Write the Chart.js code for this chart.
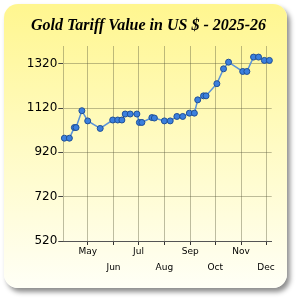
<!DOCTYPE html>
<html><head><meta charset="utf-8">
<script src="https://cdn.jsdelivr.net/npm/chart.js@4"></script>
<style>
html,body{margin:0;padding:0;background:#fff;}
#wrap{position:relative;width:300px;height:300px;overflow:hidden;}
#panel{position:absolute;left:4px;top:4px;width:283px;height:284px;border-radius:14px;background:linear-gradient(to bottom,#fff68f 0%,#fffbc4 50%,#fffff6 100%);box-shadow:3px 4px 5px rgba(0,0,0,0.45);}
canvas{position:absolute;left:0;top:0;}
</style></head><body>
<div id="wrap"><div id="panel"></div><canvas id="c" width="300" height="300"></canvas></div>
<script>
const titleText = 'Gold Tariff Value in US $ - 2025-26';
const dates = ['2025-04-03','2025-04-09','2025-04-15','2025-04-17','2025-04-24','2025-05-01','2025-05-16','2025-05-31',
  '2025-06-06','2025-06-11','2025-06-15','2025-06-21','2025-06-29','2025-07-02','2025-07-05','2025-07-17','2025-07-20',
  '2025-08-01','2025-08-08','2025-08-16','2025-08-23','2025-08-31','2025-09-06','2025-09-10','2025-09-17','2025-09-20',
  '2025-10-03','2025-10-11','2025-10-17','2025-11-03','2025-11-08','2025-11-16','2025-11-22','2025-11-29','2025-12-05'];
const values = [984,984,1032,1032,1108,1062,1028,1066,
  1066,1066,1093,1093,1093,1055,1055,1077,1075,
  1062,1062,1082,1082,1097,1097,1157,1175,1175,
  1230,1297,1327,1285,1285,1350,1350,1335,1335];
const monthTickDates = ['2025-05-01','2025-06-01','2025-07-01','2025-08-01','2025-09-01','2025-10-01','2025-11-01','2025-12-01'];
const monthLabels = ['May','Jun','Jul','Aug','Sep','Oct','Nov','Dec'];
const yTicks = [520,720,920,1120,1320];

const base = Date.UTC(2025,3,1);
function dayOf(s){const p=s.split('-').map(Number);return (Date.UTC(p[0],p[1]-1,p[2])-base)/86400000;}
const monthDays = monthTickDates.map(dayOf);
const gridColor = 'rgba(90,90,60,0.4)';

new Chart(document.getElementById('c'), {
  type: 'line',
  data: {
    datasets: [{
      data: dates.map((d,i)=>({x: dayOf(d), y: values[i]})),
      borderColor: '#5a93d8',
      borderWidth: 1.5,
      pointBackgroundColor: '#3b80de',
      pointBorderColor: '#1f4f96',
      pointBorderWidth: 1,
      pointRadius: 3,
      tension: 0,
      clip: false
    }]
  },
  options: {
    responsive: false,
    animation: false,
    layout: { padding: { left: 8, right: 11, top: 10, bottom: 19 } },
    plugins: {
      legend: { display: false },
      tooltip: { enabled: false },
      title: {
        display: true,
        text: titleText,
        color: '#000',
        font: { family: "'Liberation Serif','Times New Roman',serif", size: 16, weight: 'bold', style: 'italic' },
        padding: { top: 6, bottom: 10.8 }
      }
    },
    scales: {
      x: {
        type: 'linear',
        min: 0.7, max: 250.8,
        afterBuildTicks: s => { s.ticks = monthDays.map(v => ({ value: v })); },
        afterFit: s => { s.height = 40; },
        ticks: {
          autoSkip: false, maxRotation: 0, minRotation: 0, padding: -1,
          color: '#000',
          font: { family: 'DejaVu Sans', size: 9, lineHeight: 1.72 },
          callback: (v, i) => i % 2 === 0 ? [monthLabels[i], ''] : ['', monthLabels[i]]
        },
        grid: { color: gridColor, tickLength: 4, tickColor: '#333' },
        border: { color: '#555' }
      },
      y: {
        min: 520, max: 1400,
        afterBuildTicks: s => { s.ticks = yTicks.map(v => ({ value: v })); },
        afterFit: s => { s.width = 55.3; },
        ticks: { color: '#000', padding: 1, font: { family: 'DejaVu Sans', size: 12 }, callback: v => String(v) },
        grid: { color: gridColor, tickLength: 5, tickColor: '#444' },
        border: { color: gridColor }
      },
      yR: {
        position: 'right',
        display: true,
        ticks: { display: false },
        grid: { display: false },
        border: { display: false },
        afterFit: s => { s.width = 17.3; }
      }
    }
  }
});
</script>
</body></html>
